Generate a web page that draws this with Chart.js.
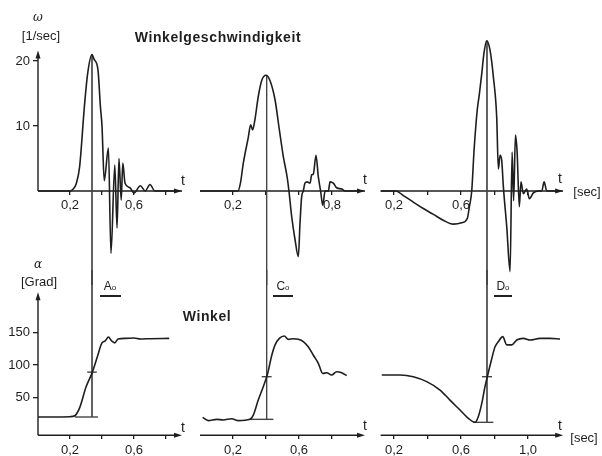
<!DOCTYPE html>
<html>
<head>
<meta charset="utf-8">
<script src="https://cdn.jsdelivr.net/npm/chart.js@4.4.1/dist/chart.umd.min.js"></script>
<style>
  body { margin: 0; background: #fff; }
  #wrap { position: relative; width: 602px; height: 456px; overflow: hidden;
          font-family: "Liberation Sans", Arial, sans-serif; color: #1e1e1e; }
  canvas { position: absolute; }
  .t { position: absolute; white-space: nowrap; z-index: 2; line-height: 1;
       transform: translate(-50%, -50%); }
  .bold { font-weight: bold; font-size: 14px; letter-spacing: 0.6px; }
  .ul { position: absolute; height: 2px; background: #222; z-index: 2; }
</style>
</head>
<body>
<div id="wrap">
  <canvas id="aTop" width="200" height="285" style="left:0;top:0"></canvas>
  <canvas id="cTop" width="200" height="285" style="left:190px;top:0"></canvas>
  <canvas id="dTop" width="232" height="285" style="left:370px;top:0"></canvas>
  <canvas id="aBot" width="200" height="186" style="left:0;top:270px"></canvas>
  <canvas id="cBot" width="200" height="186" style="left:190px;top:270px"></canvas>
  <canvas id="dBot" width="232" height="186" style="left:370px;top:270px"></canvas>

  <div class="t" style="left:38px;top:17px;font-style:italic;font-size:12px;font-family:'DejaVu Serif',serif">ω</div>
  <div class="t" style="left:41px;top:35px;font-size:13px">[1/sec]</div>
  <div class="t bold" style="left:218px;top:37px">Winkelgeschwindigkeit</div>
  <div class="t" style="left:183px;top:180px;font-size:14px">t</div>
  <div class="t" style="left:365px;top:179px;font-size:14px">t</div>
  <div class="t" style="left:560px;top:178px;font-size:14px">t</div>
  <div class="t" style="left:587px;top:191px;font-size:13px">[sec]</div>

  <div class="t" style="left:38px;top:264px;font-style:italic;font-size:12px;font-family:'DejaVu Serif',serif">α</div>
  <div class="t" style="left:39px;top:281px;font-size:13px">[Grad]</div>
  <div class="t" style="left:110px;top:286px;font-size:12px">A<span style="font-size:8px">o</span></div>
  <div class="ul" style="left:100px;top:295px;width:21px"></div>
  <div class="t" style="left:283px;top:286px;font-size:12px">C<span style="font-size:8px">o</span></div>
  <div class="ul" style="left:273px;top:295px;width:20px"></div>
  <div class="t" style="left:503px;top:286px;font-size:12px">D<span style="font-size:8px">o</span></div>
  <div class="ul" style="left:494px;top:295px;width:18px"></div>
  <div class="t bold" style="left:207px;top:316px">Winkel</div>
  <div class="t" style="left:183px;top:427px;font-size:14px">t</div>
  <div class="t" style="left:365px;top:425px;font-size:14px">t</div>
  <div class="t" style="left:560px;top:425px;font-size:14px">t</div>
  <div class="t" style="left:584px;top:437px;font-size:13px">[sec]</div>
</div>

<script>
// angular velocity omega [1/sec], three trials (A, C, D)
const omegaA_t = [0, 0.2, 0.22, 0.24, 0.26, 0.29, 0.31, 0.3375, 0.35, 0.375, 0.39, 0.40, 0.414, 0.44, 0.456, 0.48, 0.494, 0.506, 0.52, 0.53, 0.544, 0.575, 0.6, 0.64, 0.67, 0.7, 0.73, 0.76, 0.9];
const omegaA   = [0, 0, 0.3, 1.2, 3.7, 13, 18, 21, 20.3, 18.6, 13, 10, 1.6, 6.6, -9.6, 4, -5.7, 5, -1.4, 4.3, 1.2, 0.5, -0.3, 0.8, 0, 1, 0, 0, 0];

const omegaC_t = [0, 0.23, 0.245, 0.262, 0.293, 0.307, 0.319, 0.333, 0.353, 0.374, 0.4, 0.424, 0.455, 0.481, 0.505, 0.529, 0.539, 0.556, 0.576, 0.596, 0.606, 0.616, 0.626, 0.636, 0.65, 0.667, 0.677, 0.687, 0.703, 0.717, 0.731, 0.744, 0.758, 0.778, 0.788, 0.808, 0.828, 0.859, 0.879, 1.0];
const omegaC   = [0, 0, 1.2, 4.2, 8.3, 10.2, 9.4, 11, 14.5, 17, 17.8, 17, 14, 9.4, 5.3, 2, 0, -4, -7.5, -10.1, -5, -0.9, 0, 1.2, 1.4, 1.2, 2.5, 2.6, 5.5, 2.2, 0, -2.2, 0, 0, 1.4, 1.2, 0.5, 0.3, 0, 0];

const omegaD_t = [0.12, 0.212, 0.256, 0.315, 0.375, 0.435, 0.494, 0.554, 0.604, 0.638, 0.65, 0.664, 0.678, 0.697, 0.709, 0.724, 0.737, 0.753, 0.773, 0.793, 0.813, 0.823, 0.833, 0.843, 0.853, 0.873, 0.893, 0.905, 0.914, 0.925, 0.935, 0.948, 0.958, 0.972, 0.992, 1.008, 1.032, 1.062, 1.082, 1.096, 1.112, 1.21];
const omegaD   = [0, 0, -0.7, -1.7, -2.7, -3.6, -4.5, -5.1, -4.9, -4.2, -2.4, 0, 6.3, 12.5, 14.8, 18.1, 21.2, 23.1, 21.7, 17.6, 11.4, 3.4, 5.5, 4.7, 0.6, -5.5, -12.4, 6, -1.5, 8.6, 6, -2.4, 1.4, -0.4, 0.3, -1.2, -0.3, 0, 0, 1.4, 0, 0];

// angle alpha [Grad]
const alphaA_t = [0, 0.1, 0.2, 0.23, 0.26, 0.30, 0.34, 0.37, 0.40, 0.42, 0.44, 0.46, 0.48, 0.50, 0.55, 0.60, 0.64, 0.70, 0.82];
const alphaA   = [20, 20, 20.5, 22, 34, 66, 89, 112, 134, 137, 143, 137, 134, 140, 141, 141.5, 140, 140.5, 141];

const alphaC_t = [0.016, 0.05, 0.101, 0.141, 0.192, 0.232, 0.303, 0.323, 0.353, 0.384, 0.408, 0.435, 0.455, 0.481, 0.511, 0.535, 0.565, 0.596, 0.626, 0.656, 0.687, 0.717, 0.744, 0.768, 0.798, 0.828, 0.859, 0.889];
const alphaC   = [19.5, 14.4, 16.4, 15.4, 17.4, 14.4, 16.4, 23, 46, 67, 85, 115, 131, 141, 144.6, 139.5, 140.5, 139.5, 136, 128, 115, 102.6, 87, 88, 84.6, 89.7, 88, 83.6];

const alphaD_t = [0.127, 0.236, 0.315, 0.395, 0.475, 0.534, 0.594, 0.644, 0.684, 0.703, 0.724, 0.743, 0.757, 0.779, 0.803, 0.823, 0.849, 0.873, 0.903, 0.933, 0.972, 1.012, 1.072, 1.131, 1.191];
const alphaD   = [84.6, 84.6, 82, 74.4, 61.5, 46, 30.8, 18, 11.8, 20.5, 41, 66.7, 82, 105, 128, 136, 143.6, 131, 131, 138.5, 141, 138.5, 141, 141, 140];

// marker time (vertical line), peak omega, start angle, angle at marker
const markT     = [0.3375, 0.404, 0.755];
const markPeak  = [21, 17.8, 23.1];
const markBase  = [20, 16.4, 11.8];
const baseFrom  = [0.23, 0.30, 0.672];
const baseTo    = [0.375, 0.445, 0.793];
const markAlpha = [89, 82, 82];

// tick values and labelled ticks
const xTicksA = [0.2, 0.4, 0.6, 0.8];
const xTicksD = [0.2, 0.4, 0.6, 0.8, 1.0];
const labTopA = [0.2, 0.6], labTopC = [0.2, 0.8], labTopD = [0.2, 0.6];
const labBotA = [0.2, 0.6], labBotC = [0.2, 0.6], labBotD = [0.2, 0.6, 1.0];
const yTicksOmega = [10, 20];
const yTicksAlpha = [50, 100, 150];

Chart.defaults.font.family = '"Liberation Sans", Arial, sans-serif';
Chart.defaults.font.size = 13;
Chart.defaults.color = '#1e1e1e';

const INK = '#1e1e1e';
const pts = (t, v) => t.map((x, i) => ({ x: x, y: v[i] }));
const fmt = v => v.toFixed(1).replace('.', ',');

// axis lines with arrow heads
const axesPlugin = {
  id: 'axes',
  beforeDatasetsDraw(chart, args, o) {
    const { ctx, chartArea, scales: { x, y } } = chart;
    const ay = y.getPixelForValue(o.at);
    ctx.save();
    ctx.strokeStyle = INK; ctx.fillStyle = INK; ctx.lineWidth = 1.4;
    ctx.beginPath();
    ctx.moveTo(chartArea.left, ay);
    ctx.lineTo(chartArea.right - 4, ay);
    ctx.stroke();
    ctx.beginPath();
    ctx.moveTo(chartArea.right, ay);
    ctx.lineTo(chartArea.right - 8, ay - 2.5);
    ctx.lineTo(chartArea.right - 8, ay + 2.5);
    ctx.closePath(); ctx.fill();
    if (o.top != null) {
      const ax = x.getPixelForValue(x.min);
      const ty = y.getPixelForValue(o.top);
      ctx.beginPath();
      ctx.moveTo(ax, ay);
      ctx.lineTo(ax, ty + 4);
      ctx.stroke();
      ctx.beginPath();
      ctx.moveTo(ax, ty);
      ctx.lineTo(ax - 2.5, ty + 8);
      ctx.lineTo(ax + 2.5, ty + 8);
      ctx.closePath(); ctx.fill();
    }
    ctx.restore();
  }
};

function panel(id, c) {
  const yOpts = {
    min: c.yMin, max: c.yMax,
    display: !!c.yTicks,
    border: { display: false },
    grid: { drawOnChartArea: false, drawTicks: true, tickLength: 5, color: INK, lineWidth: 1.3 },
    ticks: { padding: 3, autoSkip: false },
    afterFit: s => {
      if (c.yTicks) s.width = c.yWidth;
      s.paddingTop = 0; s.paddingBottom = 0;
    }
  };
  if (c.yTicks) {
    yOpts.afterBuildTicks = s => { s.ticks = c.yTicks.map(v => ({ value: v })); };
  }
  new Chart(document.getElementById(id), {
    type: 'line',
    data: { datasets: c.sets },
    options: {
      responsive: false,
      animation: false,
      layout: { padding: c.pad },
      plugins: {
        legend: { display: false },
        tooltip: { enabled: false },
        axes: { at: c.axisAt, top: c.yTop }
      },
      scales: {
        x: {
          type: 'linear', min: c.xMin, max: c.xMax,
          position: { y: c.axisAt },
          afterFit: s => { s.height = 0; s.paddingLeft = 0; s.paddingRight = 0; },
          afterBuildTicks: s => { s.ticks = c.xTicks.map(v => ({ value: v })); },
          border: { display: false },
          grid: { drawOnChartArea: false, drawTicks: true, tickLength: 4, color: INK, lineWidth: 1.3 },
          ticks: {
            autoSkip: false, maxRotation: 0, padding: 3,
            callback: v => c.labels.some(l => Math.abs(l - v) < 1e-6) ? fmt(v) : ''
          }
        },
        y: yOpts
      }
    },
    plugins: [axesPlugin]
  });
}

const curve = d => ({ data: d, borderColor: INK, borderWidth: 1.6, pointRadius: 0, cubicInterpolationMode: 'monotone' });
const thin = (d, w) => ({ data: d, borderColor: '#444', borderWidth: w || 1, pointRadius: 0, clip: false });

function topSets(t, v, i) {
  return [
    curve(pts(t, v)),
    thin([{ x: markT[i], y: markPeak[i] }, { x: markT[i], y: -60 }], 0.9)
  ];
}
function botSets(t, v, i) {
  return [
    curve(pts(t, v)),
    thin([{ x: markT[i], y: 600 }, { x: markT[i], y: markBase[i] }], 0.9),
    thin([{ x: baseFrom[i], y: markBase[i] }, { x: baseTo[i], y: markBase[i] }], 1.4),
    thin([{ x: markT[i] - 0.03, y: markAlpha[i] }, { x: markT[i] + 0.03, y: markAlpha[i] }], 1.4)
  ];
}

// top row: y mapping 6.5 px per 1/sec, zero line at y=191
const topY = { yMin: -14, yMax: 26, axisAt: 0 };
panel('aTop', Object.assign({}, topY, {
  xMin: 0, xMax: 0.9, xTicks: xTicksA, labels: labTopA, yTop: 21.6,
  yTicks: yTicksOmega, yWidth: 38,
  pad: { left: 0, right: 18, top: 22, bottom: 3 },
  sets: topSets(omegaA_t, omegaA, 0)
}));
panel('cTop', Object.assign({}, topY, {
  xMin: 0, xMax: 1.0, xTicks: xTicksA, labels: labTopC, yTop: null,
  pad: { left: 10, right: 25, top: 22, bottom: 3 },
  sets: topSets(omegaC_t, omegaC, 1)
}));
panel('dTop', Object.assign({}, topY, {
  xMin: 0.12, xMax: 1.21, xTicks: xTicksD, labels: labTopD, yTop: null,
  pad: { left: 10.6, right: 38.8, top: 22, bottom: 3 },
  sets: topSets(omegaD_t, omegaD, 2)
}));

// bottom row: 0.65 px per degree
const botY = { yMin: -25, yMax: 240, axisAt: -8 };
panel('aBot', Object.assign({}, botY, {
  xMin: 0, xMax: 0.9, xTicks: xTicksA, labels: labBotA, yTop: 212,
  yTicks: yTicksAlpha, yWidth: 38,
  pad: { left: 0, right: 18, top: 4, bottom: 9.75 },
  sets: botSets(alphaA_t, alphaA, 0)
}));
panel('cBot', Object.assign({}, botY, {
  xMin: 0, xMax: 1.0, xTicks: xTicksA, labels: labBotC, yTop: null,
  pad: { left: 10, right: 25, top: 4, bottom: 9.75 },
  sets: botSets(alphaC_t, alphaC, 1)
}));
panel('dBot', Object.assign({}, botY, {
  xMin: 0.12, xMax: 1.21, xTicks: xTicksD, labels: labBotD, yTop: null,
  pad: { left: 10.6, right: 38.8, top: 4, bottom: 9.75 },
  sets: botSets(alphaD_t, alphaD, 2)
}));
</script>
</body>
</html>
